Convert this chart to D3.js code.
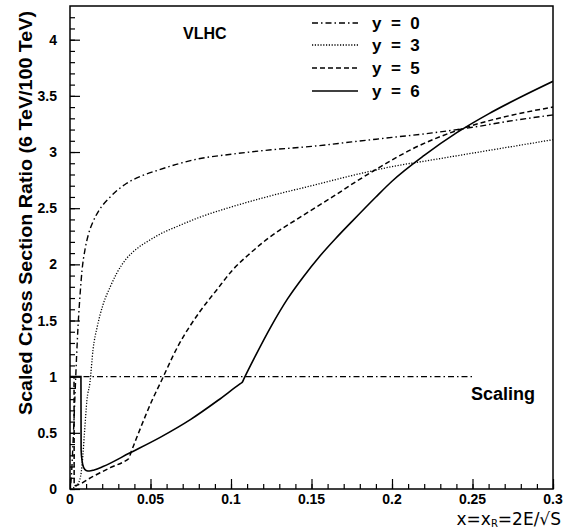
<!DOCTYPE html>
<html><head><meta charset="utf-8">
<script src="https://cdn.jsdelivr.net/npm/d3@7"></script>
<style>body{margin:0;background:#fff}svg{display:block}</style>
</head><body>
<svg id="c" width="566" height="529"></svg>
<script>
// ---- data ----
const xY0 = [0.0005,0.001,0.002,0.003,0.004,0.005,0.0062,0.0075,0.0093,0.0115,0.0143,0.018,0.025,0.035,0.045,0.055,0.066,0.08,0.1,0.125,0.15,0.175,0.2,0.225,0.25,0.275,0.3];
const vY0 = [0.05,0.15,0.45,0.8,1.15,1.45,1.72,1.95,2.13,2.27,2.38,2.48,2.6,2.72,2.79,2.84,2.89,2.94,2.98,3.02,3.05,3.09,3.13,3.17,3.22,3.28,3.33];

const xY3 = [0.002,0.004,0.006,0.007,0.008,0.009,0.0105,0.0124,0.0143,0.017,0.0205,0.025,0.029,0.035,0.0416,0.05,0.056,0.067,0.0807,0.1,0.122,0.15,0.175,0.2,0.225,0.25,0.275,0.3];
const vY3 = [0.01,0.03,0.08,0.15,0.3,0.5,0.79,0.95,1.24,1.45,1.64,1.8,1.92,2.05,2.14,2.22,2.27,2.34,2.42,2.51,2.6,2.7,2.79,2.87,2.93,2.99,3.05,3.11];

const xY5 = [0.0008,0.0025,0.0026,0.014,0.025,0.0355,0.0365,0.0375,0.044,0.051,0.056,0.067,0.0807,0.091,0.101,0.112,0.122,0.143,0.163,0.178,0.193,0.213,0.244,0.275,0.3];
const vY5 = [1.0,1.0,0.03,0.11,0.19,0.26,0.27,0.31,0.55,0.79,0.94,1.27,1.58,1.77,1.95,2.1,2.22,2.42,2.6,2.74,2.87,3.03,3.21,3.33,3.40];

const xY6 = [0.0,0.0068,0.0069,0.0075,0.0085,0.01,0.012,0.015,0.0205,0.037,0.056,0.075,0.092,0.106,0.107,0.108,0.115,0.125,0.135,0.145,0.155,0.165,0.175,0.19,0.2,0.22,0.24,0.26,0.28,0.3];
const vY6 = [1.0,1.0,0.35,0.25,0.19,0.165,0.16,0.17,0.2,0.32,0.46,0.62,0.79,0.94,0.95,0.98,1.18,1.45,1.69,1.89,2.07,2.23,2.38,2.6,2.74,2.97,3.17,3.34,3.49,3.63];

const xScaling = [0, 0.25];
const vScaling = [1, 1];

const seriesNames = ["y = 0","y = 3","y = 5","y = 6"];
const xTicks = [0,0.05,0.1,0.15,0.2,0.25,0.3];
const xTickLabels = ["0","0.05","0.1","0.15","0.2","0.25","0.3"];
const yTicks = [0,0.5,1,1.5,2,2.5,3,3.5,4];
const yTickLabels = ["0","0.5","1","1.5","2","2.5","3","3.5","4"];

// ---- chart ----
const svg = d3.select("#c");
const L=70, R=553, T=6, B=489;
const x = d3.scaleLinear().domain([0,0.3]).range([L,R]);
const y = d3.scaleLinear().domain([0,4.3]).range([B,T]);

const styles = [
  {dash:"6,3,1.5,3", w:1.4},
  {dash:"1.2,1.6", w:1.3},
  {dash:"5,3", w:1.5},
  {dash:null, w:1.6}
];
const xs=[xY0,xY3,xY5,xY6], vs=[vY0,vY3,vY5,vY6];

svg.append("clipPath").attr("id","clip").append("rect")
  .attr("x",L).attr("y",T).attr("width",R-L).attr("height",B-T);

const line = d3.line().x(d=>x(d[0])).y(d=>y(d[1])).curve(d3.curveMonotoneX);
const g = svg.append("g").attr("clip-path","url(#clip)");
xs.forEach((xa,i)=>{
  const pts = xa.map((v,j)=>[v,vs[i][j]]);
  g.append("path").attr("d",line(pts)).attr("fill","none")
    .attr("stroke","#000").attr("stroke-width",styles[i].w)
    .attr("stroke-dasharray",styles[i].dash);
});
g.append("path").attr("d",d3.line().x(d=>x(d[0])).y(d=>y(d[1]))(xScaling.map((v,j)=>[v,vScaling[j]])))
  .attr("fill","none").attr("stroke","#000").attr("stroke-width",1.3)
  .attr("stroke-dasharray","6,3,1.5,3");

// frame
svg.append("rect").attr("x",L).attr("y",T).attr("width",R-L).attr("height",B-T)
  .attr("fill","none").attr("stroke","#000").attr("stroke-width",1.5);

// y axis
svg.append("g").attr("transform",`translate(${L},0)`)
  .call(d3.axisRight(y).tickValues(d3.range(0,43).map(i=>i/10)).tickSize(5).tickFormat(""))
  .call(s=>{s.select(".domain").remove();s.selectAll("line").attr("stroke","#000").attr("stroke-width",1.2);});
svg.append("g").attr("transform",`translate(${L},0)`)
  .call(d3.axisRight(y).tickValues(yTicks).tickSize(10).tickFormat(""))
  .call(s=>{s.select(".domain").remove();s.selectAll("line").attr("stroke","#000").attr("stroke-width",1.2);});
svg.append("g").selectAll("text").data(yTicks).join("text")
  .attr("x",L-13).attr("y",d=>y(d)+5).attr("text-anchor","end")
  .attr("font-family","Liberation Sans, Arial, sans-serif").attr("font-weight","bold").attr("font-size",14)
  .text((d,i)=>yTickLabels[i]);

// x axis
svg.append("g").attr("transform",`translate(0,${B})`)
  .call(d3.axisTop(x).tickValues(d3.range(0,31).map(i=>i/100)).tickSize(5).tickFormat(""))
  .call(s=>{s.select(".domain").remove();s.selectAll("line").attr("stroke","#000").attr("stroke-width",1.2);});
svg.append("g").attr("transform",`translate(0,${B})`)
  .call(d3.axisTop(x).tickValues(xTicks).tickSize(10).tickFormat(""))
  .call(s=>{s.select(".domain").remove();s.selectAll("line").attr("stroke","#000").attr("stroke-width",1.2);});
svg.append("g").selectAll("text").data(xTicks).join("text")
  .attr("x",d=>x(d)).attr("y",B+15).attr("text-anchor","middle")
  .attr("font-family","Liberation Sans, Arial, sans-serif").attr("font-weight","bold").attr("font-size",14)
  .text((d,i)=>xTickLabels[i]);

// axis titles
svg.append("text").attr("transform","translate(32,213) rotate(-90)").attr("text-anchor","middle")
  .attr("font-family","Liberation Sans, Arial, sans-serif").attr("font-weight","bold").attr("font-size",18.5)
  .attr("textLength",404).attr("lengthAdjust","spacingAndGlyphs")
  .text("Scaled Cross Section Ratio (6 TeV/100 TeV)");
const xt = svg.append("text").attr("x",561).attr("y",525).attr("text-anchor","end")
  .attr("font-family","DejaVu Sans, sans-serif").attr("font-size",17);
xt.append("tspan").text("x=x");
xt.append("tspan").attr("font-size",10).attr("dy",2).text("R");
xt.append("tspan").attr("dy",-2).text("=2E/√S");

// annotations
svg.append("text").attr("x",183).attr("y",39)
  .attr("font-family","Liberation Sans, Arial, sans-serif").attr("font-weight","bold").attr("font-size",16).text("VLHC");
svg.append("text").attr("x",471).attr("y",400)
  .attr("font-family","Liberation Sans, Arial, sans-serif").attr("font-weight","bold").attr("font-size",18).text("Scaling");

// legend
const legY=[23,45,68,91];
seriesNames.forEach((nm,i)=>{
  svg.append("line").attr("x1",312).attr("x2",358).attr("y1",legY[i]).attr("y2",legY[i])
    .attr("stroke","#000").attr("stroke-width",styles[i].w).attr("stroke-dasharray",styles[i].dash);
  svg.append("text").attr("x",372).attr("y",legY[i]+6).attr("xml:space","preserve")
    .attr("font-family","Liberation Sans, Arial, sans-serif").attr("font-weight","bold").attr("font-size",17)
    .text(nm.replace(/ /g,"  "));
});
</script>
</body></html>
